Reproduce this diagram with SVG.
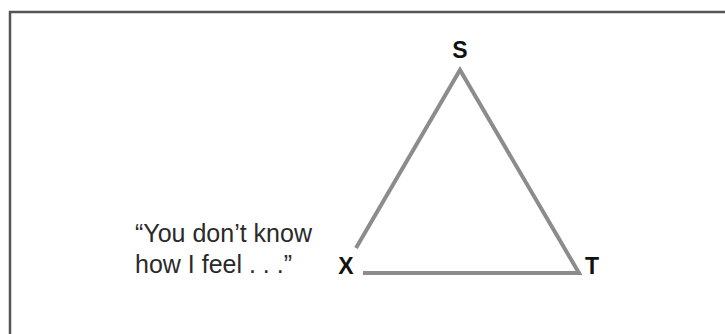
<svg xmlns="http://www.w3.org/2000/svg" width="725" height="334" viewBox="0 0 725 334">
<style>
.lbl{font-family:"Liberation Sans",Arial,sans-serif;font-weight:bold;font-size:23px;fill:#111;text-anchor:middle}
.quote{font-family:"Liberation Sans",Arial,sans-serif;font-size:25px;fill:#2a2a2a}
.edge{stroke:#8c8c8c;stroke-width:4;fill:none;stroke-linejoin:miter}
</style>
<rect x="0" y="0" width="725" height="334" fill="#fff"/>
<rect x="10" y="12" width="730" height="340" fill="none" stroke="#555" stroke-width="2.5"/>
<g id="connectors">
<path class="edge" d="M356,248 L460,70 L579,273 L363,273"/>
</g>
<g id="node-S"><text class="lbl" x="460" y="58">S</text></g>
<g id="node-X"><text class="lbl" x="346" y="274">X</text></g>
<g id="node-T"><text class="lbl" x="592" y="274">T</text></g>
<g id="quote">
<text class="quote" x="135" y="242">“You don’t know</text>
<text class="quote" x="135" y="273">how I feel . . .”</text>
</g>
</svg>
